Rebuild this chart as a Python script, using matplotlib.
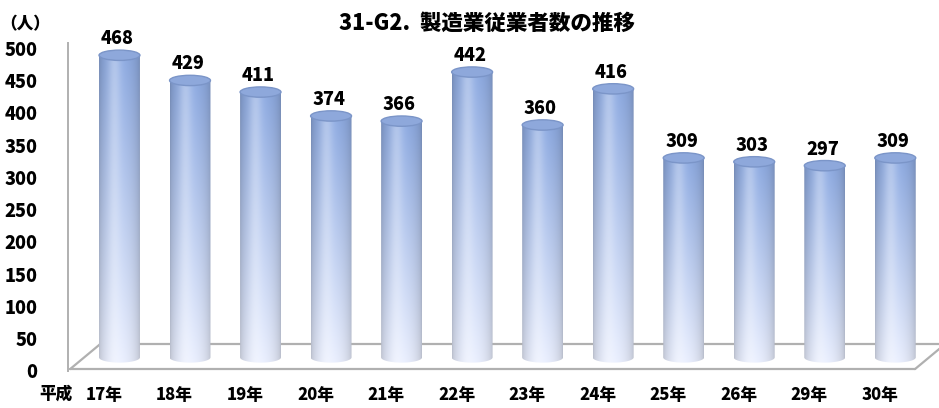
import numpy as np
import matplotlib
matplotlib.use("Agg")
import matplotlib.pyplot as plt
from matplotlib.patches import Ellipse, PathPatch
from matplotlib.path import Path

plt.rcParams['font.family'] = ['Noto Sans CJK JP', 'DejaVu Sans']

# data
years = ['17年', '18年', '19年', '20年', '21年', '22年',
         '23年', '24年', '25年', '26年', '29年', '30年']
workers = [468, 429, 411, 374, 366, 442, 360, 416, 309, 303, 297, 309]

title = '31-G2.  製造業従業者数の推移'
unit_label = '（人）'
era_label = '平成'

fig = plt.figure(figsize=(9.39, 4.08), dpi=100)
ax = fig.add_axes([68 / 939, 37 / 408, 871 / 939, 328 / 408])
ax.set_xlim(-0.51, 11.84)
ax.set_ylim(0, 508)

# 3d look: bars sit a bit back in the depth of the floor
shift = 0.22
base = 21
width = 0.58
eh = 8  # half height of the ellipses in value units
depth = 42
slant = 0.43  # x offset of the floor depth

# floor outline
floor_kw = dict(color='#b0b0b0', lw=1.6, zorder=1, clip_on=False,
                solid_capstyle='round')
ax.plot([-0.48, 11.5], [3, 3], **floor_kw)
ax.plot([-0.48, -0.48 + slant], [3, depth], **floor_kw)
ax.plot([-0.48 + slant, 12.2], [depth, depth], **floor_kw)
ax.plot([11.5, 11.5 + slant], [3, depth], **floor_kw)


def cylinder_image(n=120):
    u = np.linspace(0, 1, n)
    t = np.linspace(0, 1, n)[:, None]
    bottom = np.array([0.90, 0.92, 0.98])
    top = np.array([0.55, 0.66, 0.87])
    col = bottom + (top - bottom) * t[..., None]
    col = np.broadcast_to(col, (n, n, 3)).copy()
    shade = 0.80 + 0.22 * np.sin(np.pi * u) ** 0.5
    col = col * shade[None, :, None]
    hl = 0.30 * np.exp(-((u - 0.38) / 0.16) ** 2)
    col = col + (1 - col) * hl[None, :, None]
    return np.clip(col, 0, 1)


img = cylinder_image()

for i, v in enumerate(workers):
    xc = i + shift
    x0, x1 = xc - width / 2, xc + width / 2
    top = base + v
    th = np.linspace(np.pi, 2 * np.pi, 40)
    bx = xc + width / 2 * np.cos(th)
    by = base + eh * np.sin(th)
    verts = [(x0, top)] + list(zip(bx, by)) + [(x1, top), (x0, top)]
    clip = PathPatch(Path(verts), facecolor='none', edgecolor='none')
    ax.add_patch(clip)
    im = ax.imshow(img, origin='lower', extent=[x0, x1, base - eh, top],
                   aspect='auto', zorder=3, interpolation='bilinear')
    im.set_clip_path(clip)
    ax.add_patch(Ellipse((xc, top), width, 2 * eh, facecolor='#8ea8db',
                         edgecolor='#7b95c8', lw=1.0, zorder=4, clip_on=False))
    ax.text(xc - 0.03, top + eh + 3, str(v), ha='center', va='bottom',
            fontsize=13, fontweight='heavy', zorder=5, clip_on=False)

ax.set_xticks(range(len(years)))
ax.set_xticklabels(years, fontsize=12, fontweight='heavy')
ax.set_yticks(range(0, 501, 50))
ax.set_yticklabels([str(t) for t in range(0, 501, 50)],
                   fontsize=13, fontweight='heavy')
ax.tick_params(axis='both', length=0)
ax.tick_params(axis='y', pad=22)
ax.tick_params(axis='x', pad=11)

for s in ['top', 'right', 'bottom']:
    ax.spines[s].set_visible(False)
ax.spines['left'].set_color('#b0b0b0')
ax.spines['left'].set_linewidth(1.4)

fig.text(56 / 939, 1 - 394 / 408, era_label, ha='center', va='center',
         fontsize=12, fontweight='heavy')
fig.text(25 / 939, 1 - 24 / 408, unit_label, ha='center', va='center',
         fontsize=12, fontweight='heavy')
fig.text(487 / 939, 1 - 23 / 408, title, ha='center', va='center',
         fontsize=15.5, fontweight='heavy')

fig.savefig('out.png', dpi=100)
